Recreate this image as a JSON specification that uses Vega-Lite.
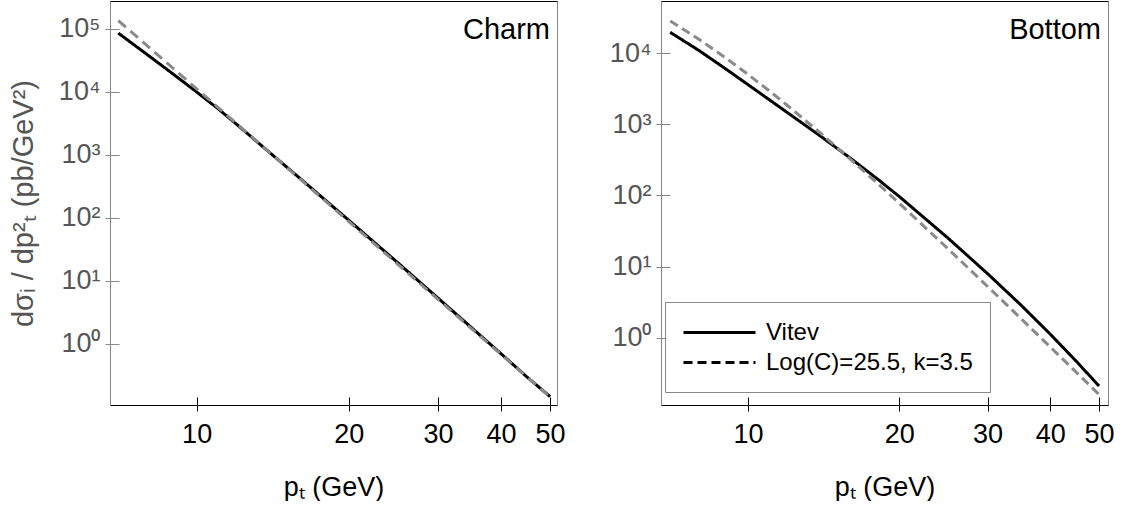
{
  "$schema": "https://vega.github.io/schema/vega-lite/v6.json",
  "padding": {"left": 8, "top": 0, "right": 5, "bottom": 0},
  "spacing": 42,
  "background": "white",
  "resolve": {"scale": {"color": "independent", "strokeDash": "independent"}, "legend": {"strokeDash": "independent"}},
  "config": {
    "font": "Liberation Sans",
    "view": {"stroke": "#888", "strokeWidth": 1},
    "axis": {"grid": false, "labelFontSize": 27, "titleFontSize": 27, "titleFontWeight": "normal", "labelFont": "Liberation Sans", "titleFont": "Liberation Sans"},
    "title": {"fontSize": 29, "fontWeight": "normal", "anchor": "end", "frame": "group", "offset": -44, "dx": -7, "color": "black", "baseline": "alphabetic"}
  },
  "datasets": {
    "charm": [
      {"series": "Vitev", "pT": 7, "value": 85900},
      {"series": "Vitev", "pT": 8, "value": 38730},
      {"series": "Vitev", "pT": 9, "value": 19050},
      {"series": "Vitev", "pT": 10, "value": 10000},
      {"series": "Vitev", "pT": 11, "value": 5495},
      {"series": "Vitev", "pT": 12, "value": 3062},
      {"series": "Vitev", "pT": 14, "value": 1064},
      {"series": "Vitev", "pT": 16, "value": 427.6},
      {"series": "Vitev", "pT": 18, "value": 189.7},
      {"series": "Vitev", "pT": 20, "value": 91.83},
      {"series": "Vitev", "pT": 25, "value": 19.45},
      {"series": "Vitev", "pT": 30, "value": 5.37},
      {"series": "Vitev", "pT": 35, "value": 1.803},
      {"series": "Vitev", "pT": 40, "value": 0.6998},
      {"series": "Vitev", "pT": 45, "value": 0.2999},
      {"series": "Vitev", "pT": 50, "value": 0.1462},
      {"series": "Log(C)=25.5, k=3.5", "pT": 7, "value": 136100},
      {"series": "Log(C)=25.5, k=3.5", "pT": 8, "value": 53460},
      {"series": "Log(C)=25.5, k=3.5", "pT": 9, "value": 23440},
      {"series": "Log(C)=25.5, k=3.5", "pT": 10, "value": 11220},
      {"series": "Log(C)=25.5, k=3.5", "pT": 11, "value": 5754},
      {"series": "Log(C)=25.5, k=3.5", "pT": 12, "value": 3133},
      {"series": "Log(C)=25.5, k=3.5", "pT": 14, "value": 1064},
      {"series": "Log(C)=25.5, k=3.5", "pT": 16, "value": 417.8},
      {"series": "Log(C)=25.5, k=3.5", "pT": 18, "value": 183.2},
      {"series": "Log(C)=25.5, k=3.5", "pT": 20, "value": 87.7},
      {"series": "Log(C)=25.5, k=3.5", "pT": 25, "value": 18.37},
      {"series": "Log(C)=25.5, k=3.5", "pT": 30, "value": 5.129},
      {"series": "Log(C)=25.5, k=3.5", "pT": 35, "value": 1.742},
      {"series": "Log(C)=25.5, k=3.5", "pT": 40, "value": 0.6839},
      {"series": "Log(C)=25.5, k=3.5", "pT": 45, "value": 0.2999},
      {"series": "Log(C)=25.5, k=3.5", "pT": 50, "value": 0.1435}
    ],
    "bottom": [
      {"series": "Vitev", "pT": 7, "value": 19770},
      {"series": "Vitev", "pT": 8, "value": 10890},
      {"series": "Vitev", "pT": 9, "value": 6140},
      {"series": "Vitev", "pT": 10, "value": 3630},
      {"series": "Vitev", "pT": 11, "value": 2251},
      {"series": "Vitev", "pT": 12, "value": 1455},
      {"series": "Vitev", "pT": 14, "value": 669.9},
      {"series": "Vitev", "pT": 16, "value": 334.0},
      {"series": "Vitev", "pT": 18, "value": 176.1},
      {"series": "Vitev", "pT": 20, "value": 96.9},
      {"series": "Vitev", "pT": 25, "value": 25.23},
      {"series": "Vitev", "pT": 30, "value": 7.925},
      {"series": "Vitev", "pT": 35, "value": 2.844},
      {"series": "Vitev", "pT": 40, "value": 1.114},
      {"series": "Vitev", "pT": 45, "value": 0.4678},
      {"series": "Vitev", "pT": 50, "value": 0.2084},
      {"series": "Log(C)=25.5, k=3.5", "pT": 7, "value": 28640},
      {"series": "Log(C)=25.5, k=3.5", "pT": 8, "value": 15630},
      {"series": "Log(C)=25.5, k=3.5", "pT": 9, "value": 8770},
      {"series": "Log(C)=25.5, k=3.5", "pT": 10, "value": 5058},
      {"series": "Log(C)=25.5, k=3.5", "pT": 11, "value": 3006},
      {"series": "Log(C)=25.5, k=3.5", "pT": 12, "value": 1832},
      {"series": "Log(C)=25.5, k=3.5", "pT": 14, "value": 734.5},
      {"series": "Log(C)=25.5, k=3.5", "pT": 16, "value": 322.8},
      {"series": "Log(C)=25.5, k=3.5", "pT": 18, "value": 153.5},
      {"series": "Log(C)=25.5, k=3.5", "pT": 20, "value": 77.8},
      {"series": "Log(C)=25.5, k=3.5", "pT": 25, "value": 17.86},
      {"series": "Log(C)=25.5, k=3.5", "pT": 30, "value": 5.236},
      {"series": "Log(C)=25.5, k=3.5", "pT": 35, "value": 1.837},
      {"series": "Log(C)=25.5, k=3.5", "pT": 40, "value": 0.7362},
      {"series": "Log(C)=25.5, k=3.5", "pT": 45, "value": 0.3273},
      {"series": "Log(C)=25.5, k=3.5", "pT": 50, "value": 0.1581}
    ]
  },
  "hconcat": [
    {
      "width": 447,
      "height": 404,
      "title": {"text": "Charm"},
      "data": {"name": "charm"},
      "resolve": {"axis": {"x": "independent", "y": "independent"}},
      "layer": [
        {
          "mark": {"type": "line", "strokeWidth": 3, "clip": true},
          "encoding": {
            "x": {"field": "pT", "type": "quantitative",
                  "scale": {"type": "log", "domain": [6.74, 51.6], "nice": false},
                  "axis": {"orient": "bottom", "values": [10, 20, 30, 40, 50], "format": "d", "tickSize": 6, "tickColor": "black", "domainColor": "black", "labelColor": "black", "labelPadding": 10, "labelFlush": false, "labelOverlap": false, "title": "pₜ (GeV)", "titleColor": "black", "titlePadding": 27}},
            "y": {"field": "value", "type": "quantitative",
                  "scale": {"type": "log", "domain": [0.1076, 278000], "nice": false},
                  "axis": {"orient": "left", "values": [1, 10, 100, 1000, 10000, 100000], "labelExpr": "'10' + ['⁰','¹','²','³','⁴','⁵'][round(log(datum.value)/LN10)]", "tickSize": 5, "tickColor": "#888", "domainColor": "#888", "labelColor": "#555", "labelPadding": 5, "title": "dσᵢ / dp²ₜ (pb/GeV²)", "titleColor": "#555", "titlePadding": 20, "titleFontSize": 29}},
            "color": {"condition": {"test": "datum.series === 'Vitev'", "value": "black"}, "value": "#8a8a8a"},
            "strokeDash": {"field": "series", "type": "nominal", "sort": ["Vitev", "Log(C)=25.5, k=3.5"],
                      "scale": {"domain": ["Vitev", "Log(C)=25.5, k=3.5"], "range": [[1, 0], [10, 6]]}, "legend": null}
          }
        },
        {
          "mark": {"type": "line", "opacity": 0},
          "encoding": {
            "x": {"field": "pT", "type": "quantitative", "axis": {"orient": "top", "ticks": false, "labels": false, "domainColor": "black", "title": null}},
            "y": {"field": "value", "type": "quantitative", "axis": {"orient": "left", "values": [1, 10, 100, 1000, 10000, 100000], "labels": false, "domain": false, "tickSize": -9, "tickColor": "#888", "title": null}}
          }
        },
        {
          "mark": {"type": "line", "opacity": 0},
          "encoding": {
            "x": {"field": "pT", "type": "quantitative", "axis": {"orient": "bottom", "values": [10, 20, 30, 40, 50], "labels": false, "domain": false, "tickSize": -8, "tickColor": "black", "title": null}},
            "y": {"field": "value", "type": "quantitative", "axis": null}
          }
        }
      ]
    },
    {
      "width": 447,
      "height": 404,
      "title": {"text": "Bottom"},
      "data": {"name": "bottom"},
      "resolve": {"axis": {"x": "independent", "y": "independent"}},
      "layer": [
        {
          "mark": {"type": "line", "strokeWidth": 3, "clip": true},
          "encoding": {
            "x": {"field": "pT", "type": "quantitative",
                  "scale": {"type": "log", "domain": [6.71, 52.1], "nice": false},
                  "axis": {"orient": "bottom", "values": [10, 20, 30, 40, 50], "format": "d", "tickSize": 6, "tickColor": "black", "domainColor": "black", "labelColor": "black", "labelPadding": 10, "labelFlush": false, "labelOverlap": false, "title": "pₜ (GeV)", "titleColor": "black", "titlePadding": 27}},
            "y": {"field": "value", "type": "quantitative",
                  "scale": {"type": "log", "domain": [0.1125, 54600], "nice": false},
                  "axis": {"orient": "left", "values": [1, 10, 100, 1000, 10000], "labelExpr": "'10' + ['⁰','¹','²','³','⁴','⁵'][round(log(datum.value)/LN10)]", "tickSize": 5, "tickColor": "#888", "domainColor": "#888", "labelColor": "#555", "labelPadding": 5, "title": null}},
            "color": {"condition": {"test": "datum.series === 'Vitev'", "value": "black"}, "value": "#8a8a8a"},
            "strokeDash": {"field": "series", "type": "nominal", "sort": ["Vitev", "Log(C)=25.5, k=3.5"],
                      "scale": {"domain": ["Vitev", "Log(C)=25.5, k=3.5"], "range": [[1, 0], [9, 5]]},
                      "legend": {"title": null, "orient": "none", "legendX": 4, "legendY": 301, "symbolType": "M-1,0H5", "symbolSize": 576, "symbolStrokeWidth": 3, "symbolStrokeColor": "black", "labelFontSize": 24, "labelColor": "black", "labelLimit": 400, "labelOffset": 57, "strokeColor": "#888", "fillColor": "white", "padding": 17, "rowPadding": 4}}
          }
        },
        {
          "mark": {"type": "line", "opacity": 0},
          "encoding": {
            "x": {"field": "pT", "type": "quantitative", "axis": {"orient": "top", "ticks": false, "labels": false, "domainColor": "black", "title": null}},
            "y": {"field": "value", "type": "quantitative", "axis": {"orient": "left", "values": [1, 10, 100, 1000, 10000], "labels": false, "domain": false, "tickSize": -9, "tickColor": "#888", "title": null}}
          }
        },
        {
          "mark": {"type": "line", "opacity": 0},
          "encoding": {
            "x": {"field": "pT", "type": "quantitative", "axis": {"orient": "bottom", "values": [10, 20, 30, 40, 50], "labels": false, "domain": false, "tickSize": -8, "tickColor": "black", "title": null}},
            "y": {"field": "value", "type": "quantitative", "axis": null}
          }
        }
      ]
    }
  ]
}
